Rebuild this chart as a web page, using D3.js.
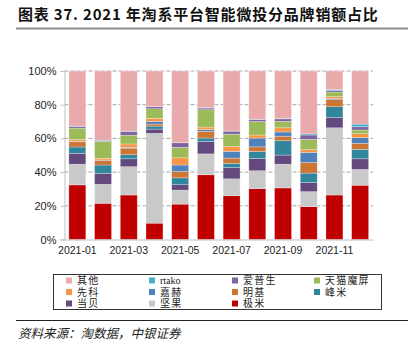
<!DOCTYPE html>
<html>
<head>
<meta charset="utf-8">
<script src="https://cdn.jsdelivr.net/npm/d3@7"></script>
<style>
  html, body { margin: 0; padding: 0; background: #fff; }
  svg { display: block; }
  .cjk { font-family: "Noto Sans CJK SC", "Noto Sans", sans-serif; }
  .num { font-family: "Liberation Sans", Arial, sans-serif; }
</style>
</head>
<body>
<div id="chart"></div>
<script>
// 2021 Taobao smart projector brand share, 100% stacked bars

const months = ["2021-01","2021-02","2021-03","2021-04","2021-05","2021-06",
                "2021-07","2021-08","2021-09","2021-10","2021-11","2021-12"];
const tickMonths = ["2021-01","2021-03","2021-05","2021-07","2021-09","2021-11"];
const yTicks = [0, 20, 40, 60, 80, 100];

// stacking order, bottom -> top
const brands = ["极米","坚果","当贝","峰米","明基","嘉赫","先科","天猫魔屏","爱普生","rtako","其他"];
const colors = ["#C00000","#C9C9C9","#64497F","#31859C","#CB7634","#4F81BD","#F79646","#9BBB59","#8064A2","#4BACC6","#E9AAAB"];

// share (%) per brand, one value per month
const jimi    = [32.4, 21.5, 26.4,  9.7, 21.0, 38.4, 26.0, 30.2, 30.6, 19.5, 26.4, 32.2];
const jianguo = [12.3, 11.3, 16.8, 53.3,  8.3, 12.4, 10.0, 10.6, 14.1,  8.9, 39.9,  9.4];
const dangbei = [ 6.4,  6.4,  4.7,  2.5,  3.2,  7.4,  6.7,  7.3,  5.4,  5.4,  6.0,  6.3];
const fengmi  = [ 3.8,  5.0,  2.4,  1.8,  4.1,  2.0,  2.4,  4.1,  8.5,  5.6,  6.5,  5.6];
const mingji  = [ 3.1,  2.8,  3.9,  1.2,  3.8,  4.0,  3.2,  2.8,  2.7,  6.3,  4.2,  3.6];
const jiahe   = [ 0.3,  0.2,  0.5,  1.6,  3.8,  1.0,  4.0,  5.2,  2.5,  6.0,  0.6,  3.3];
const xianke  = [ 1.0,  1.0,  2.0,  1.8,  4.3,  1.5,  3.0,  1.8,  2.5,  1.6,  1.2,  2.4];
const tianmao = [ 6.8, 10.1,  5.2,  5.7,  6.2, 10.3,  7.2,  8.0,  3.8,  6.1,  2.7,  2.2];
const epson   = [ 1.0,  0.6,  2.2,  1.2,  2.7,  1.0,  1.8,  1.2,  1.5,  2.6,  0.8,  1.9];
const rtako   = [ 0.2,  0.1,  0.2,  0.2,  0.1,  0.2,  0.1,  0.2,  0.3,  0.7,  0.6,  1.6];
const others  = [32.7, 41.0, 35.7, 21.0, 42.5, 21.8, 35.6, 28.6, 28.1, 37.3, 11.1, 31.5];

const seriesValues = [jimi, jianguo, dangbei, fengmi, mingji, jiahe, xianke, tianmao, epson, rtako, others];

// legend layout follows the reference (4 columns, row-major)
const legendOrder = ["其他","rtako","爱普生","天猫魔屏","先科","嘉赫","明基","峰米","当贝","坚果","极米"];

const W = 408, H = 350;
const margin = { top: 71, right: 35, bottom: 110.5, left: 64.5 };

const rows = months.map((m, i) => {
  const r = { month: m };
  brands.forEach((b, j) => r[b] = seriesValues[j][i]);
  return r;
});

const svg = d3.select("#chart").append("svg")
  .attr("width", W).attr("height", H).attr("viewBox", `0 0 ${W} ${H}`);

// title + rules
svg.append("text").attr("class", "cjk")
  .attr("x", 18).attr("y", 20)
  .attr("font-size", 15).attr("font-weight", 700).attr("fill", "#111")
  .attr("letter-spacing", 0.8)
  .text("图表 37. 2021 年淘系平台智能微投分品牌销额占比");
svg.append("line").attr("x1", 16).attr("x2", W).attr("y1", 28.5).attr("y2", 28.5)
  .attr("stroke", "#8c8c8c").attr("stroke-width", 2);

const x = d3.scaleBand().domain(months)
  .range([margin.left, W - margin.right]).paddingInner(0.34).paddingOuter(0.17);
const y = d3.scaleLinear().domain([0, 100]).range([H - margin.bottom, margin.top]);

// gridlines
svg.append("g").selectAll("line").data(yTicks.filter(d => d > 0)).join("line")
  .attr("x1", margin.left).attr("x2", W - margin.right)
  .attr("y1", d => y(d)).attr("y2", d => y(d))
  .attr("stroke", "#a6a6a6").attr("stroke-width", 1).attr("stroke-dasharray", "4 2");

// y axis
const gY = svg.append("g").attr("transform", `translate(${margin.left},0)`)
  .call(d3.axisLeft(y).tickValues(yTicks).tickFormat(d => d + "%").tickSize(4).tickPadding(4));
gY.select(".domain").attr("stroke", "#bfbfbf");
gY.selectAll(".tick line").attr("stroke", "#bfbfbf");
gY.selectAll("text").attr("class", "num").attr("font-size", 11).attr("fill", "#222");

// stacked bars
const stack = d3.stack().keys(brands)(rows);
svg.append("g").selectAll("g").data(stack).join("g")
  .attr("fill", (d, i) => colors[i])
  .selectAll("rect").data(d => d).join("rect")
    .attr("x", d => x(d.data.month))
    .attr("width", x.bandwidth())
    .attr("y", d => y(d[1]))
    .attr("height", d => Math.max(0, y(d[0]) - y(d[1])))
    .attr("stroke", "rgba(255,255,255,0.45)").attr("stroke-width", 0.6);

// x axis
const gX = svg.append("g").attr("transform", `translate(0,${H - margin.bottom})`)
  .call(d3.axisBottom(x).tickValues(tickMonths).tickSize(0).tickPadding(7));
gX.select(".domain").attr("stroke", "#bfbfbf");
gX.selectAll("text").attr("class", "num").attr("font-size", 10.5).attr("fill", "#222");

// legend
const lg = svg.append("g");
lg.append("rect").attr("x", 53.5).attr("y", 274.5).attr("width", 328).attr("height", 35)
  .attr("fill", "#fff").attr("stroke", "#333").attr("stroke-width", 1);
const colX = [66, 149, 232, 314], rowY = [280.5, 292, 303.5];
const items = lg.selectAll("g").data(legendOrder).join("g")
  .attr("transform", (d, i) => `translate(${colX[i % 4]},${rowY[Math.floor(i / 4)]})`);
items.append("rect").attr("x", 0).attr("y", -3).attr("width", 6).attr("height", 6)
  .attr("fill", d => colors[brands.indexOf(d)]);
// serif first: its compact line box keeps rows apart, CJK glyphs fall back
items.append("text").attr("x", 11).attr("y", 0).attr("dy", "0.36em")
  .attr("font-family", "'Liberation Serif', 'Noto Sans CJK SC', serif")
  .attr("font-size", 10).attr("fill", "#222").attr("letter-spacing", d => d === "rtako" ? 0 : 1.2)
  .text(d => d);

// source
svg.append("line").attr("x1", 16).attr("x2", W).attr("y1", 320.5).attr("y2", 320.5)
  .attr("stroke", "#222").attr("stroke-width", 1);
svg.append("text").attr("class", "cjk")
  .attr("x", 18).attr("y", 338).attr("font-size", 12.5).attr("font-style", "italic")
  .attr("fill", "#222")
  .text("资料来源：淘数据，中银证券");
</script>
</body>
</html>
